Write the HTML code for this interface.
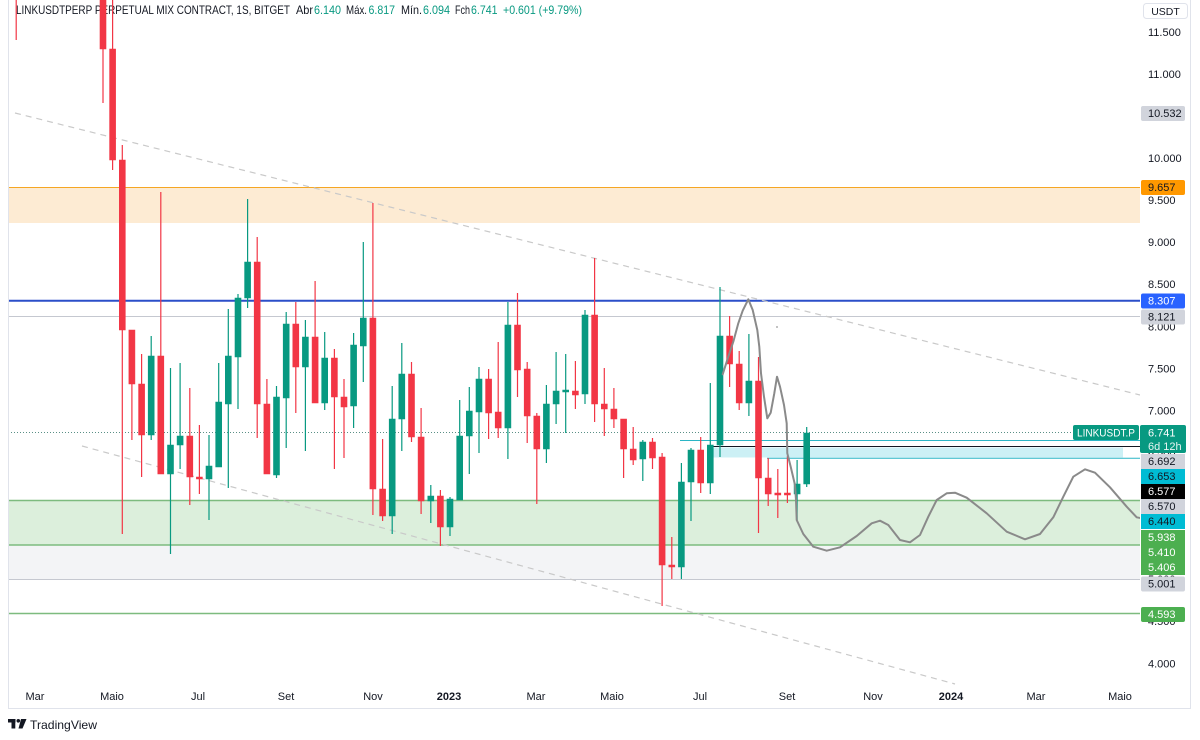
<!DOCTYPE html>
<html><head><meta charset="utf-8"><style>
html,body{margin:0;padding:0;background:#fff;}
svg{display:block;}
text{font-family:"Liberation Sans",sans-serif;}
</style></head><body>
<svg width="1200" height="740" viewBox="0 0 1200 740" xmlns="http://www.w3.org/2000/svg">
<rect x="0" y="0" width="1200" height="740" fill="#ffffff"/>

<!-- zones -->
<rect x="8" y="187" width="1132" height="36" fill="#fdebd3"/>
<line x1="8" y1="187.5" x2="1140" y2="187.5" stroke="#f5a623" stroke-width="1"/>
<rect x="8" y="500" width="1132" height="45" fill="#dcefdc"/>
<rect x="8" y="545" width="1132" height="34" fill="#f3f4f6"/>
<line x1="8" y1="500.5" x2="1140" y2="500.5" stroke="#7dbb7f" stroke-width="1.5"/>
<line x1="8" y1="545" x2="1140" y2="545" stroke="#7dbb7f" stroke-width="1.5"/>
<line x1="8" y1="579.5" x2="1140" y2="579.5" stroke="#c5c8d0" stroke-width="1"/>
<line x1="8" y1="613.5" x2="1140" y2="613.5" stroke="#7dbb7f" stroke-width="1.5"/>

<!-- horizontal lines -->
<line x1="8" y1="300.8" x2="1140" y2="300.8" stroke="#2b4fc9" stroke-width="2"/>
<line x1="8" y1="316.5" x2="1140" y2="316.5" stroke="#c5c8d0" stroke-width="1"/>

<!-- cyan zone -->
<rect x="712" y="447.5" width="411" height="10" fill="#ccf0f5"/>
<line x1="680" y1="440.5" x2="1140" y2="440.5" stroke="#2bb5c5" stroke-width="1"/>
<line x1="712" y1="446.5" x2="1140" y2="446.5" stroke="#131722" stroke-width="1"/>
<line x1="767" y1="458.3" x2="1140" y2="458.3" stroke="#2bb5c5" stroke-width="1"/>

<!-- last price dotted line -->
<line x1="8" y1="432.5" x2="1073" y2="432.5" stroke="#5a8f86" stroke-width="1" stroke-dasharray="1 2"/>

<!-- dashed diagonals -->
<line x1="15" y1="113" x2="1140" y2="395" stroke="#c9c9c9" stroke-width="1.2" stroke-dasharray="6 5"/>
<line x1="82" y1="446" x2="955" y2="684" stroke="#c9c9c9" stroke-width="1.2" stroke-dasharray="6 5"/>

<!-- header -->
<text x="16" y="14" font-size="12" fill="#131722" textLength="274" lengthAdjust="spacingAndGlyphs">LINKUSDTPERP PERPETUAL MIX CONTRACT, 1S, BITGET</text>
<text x="296" y="14" font-size="12" fill="#131722" textLength="17" lengthAdjust="spacingAndGlyphs">Abr</text>
<text x="314" y="14" font-size="12" fill="#089981" textLength="27" lengthAdjust="spacingAndGlyphs">6.140</text>
<text x="346" y="14" font-size="12" fill="#131722" textLength="21" lengthAdjust="spacingAndGlyphs">Máx.</text>
<text x="368.5" y="14" font-size="12" fill="#089981" textLength="26.5" lengthAdjust="spacingAndGlyphs">6.817</text>
<text x="401" y="14" font-size="12" fill="#131722" textLength="21" lengthAdjust="spacingAndGlyphs">Mín.</text>
<text x="423" y="14" font-size="12" fill="#089981" textLength="27" lengthAdjust="spacingAndGlyphs">6.094</text>
<text x="455" y="14" font-size="12" fill="#131722" textLength="15" lengthAdjust="spacingAndGlyphs">Fch</text>
<text x="471" y="14" font-size="12" fill="#089981" textLength="26.5" lengthAdjust="spacingAndGlyphs">6.741</text>
<text x="503" y="14" font-size="12" fill="#089981" textLength="79" lengthAdjust="spacingAndGlyphs">+0.601 (+9.79%)</text>

<!-- candles: red -->
<path fill="none" stroke="#f23645" stroke-width="1.2" d="M16.2 0V40M103 0V103M112.6 0V170M122.3 145V534M131.9 330V440M141.6 354V477M160.8 192V474M189.8 388V505M199.4 425V494M257.2 237V438M266.9 379V474M295.8 302V413M315.1 281V403M334.4 349V469M344 379V458M372.9 203V515M382.6 439V521M411.5 362V442M421.1 408V514M440.4 490V546M488.6 369V439M498.2 342V438M517.5 293V397M527.2 362V443M536.8 413V504M575.4 361V409M594.6 258V422M604.3 368V436M613.9 388V428M623.6 419V478M633.2 427V465M652.5 438V469M662.1 453V606M671.8 537V579M700.7 437V493M729.6 316V387M739.2 351V410M758.5 357V533M768.2 458V506M777.8 469V518M787.4 456V503"/>
<path fill="#f23645" stroke="#f23645" stroke-width="0.6" d="M100 0h6V49h-6ZM109.6 49h6V160h-6ZM119.3 160h6V330h-6ZM128.9 330h6V384h-6ZM138.6 384h6V435h-6ZM157.8 356h6V474h-6ZM186.8 436h6V477h-6ZM196.4 477h6V479h-6ZM254.2 262h6V404h-6ZM263.9 404h6V474h-6ZM292.8 324h6V367h-6ZM312.1 337h6V403h-6ZM331.4 358h6V397h-6ZM341 397h6V407h-6ZM369.9 318h6V489h-6ZM379.6 489h6V516h-6ZM408.5 374h6V437h-6ZM418.1 437h6V501h-6ZM437.4 496h6V527h-6ZM485.6 379h6V413h-6ZM495.2 412h6V428h-6ZM514.5 325h6V370h-6ZM524.2 369h6V416h-6ZM533.8 416h6V449h-6ZM572.4 391h6V395h-6ZM591.6 315h6V404h-6ZM601.3 404h6V409h-6ZM610.9 409h6V419h-6ZM620.6 419h6V449h-6ZM630.2 449h6V460h-6ZM649.5 442h6V458h-6ZM659.1 457h6V565h-6ZM668.8 565h6V567h-6ZM697.7 450h6V483h-6ZM726.6 336h6V364h-6ZM736.2 364h6V403h-6ZM755.5 381h6V478h-6ZM765.2 478h6V494h-6ZM774.8 493h6V495h-6ZM784.4 493h6V495h-6Z"/>

<!-- candles: green -->
<path fill="none" stroke="#089981" stroke-width="1.2" d="M151.2 336V440M170.5 368V554M180.1 363V469M209 435V520M218.7 363V467M228.3 309V488M238 294V409M247.6 199V308M276.5 386V478M286.2 312V448M305.4 320V451M324.7 332V410M353.6 333V428M363.3 242V382M392.2 386V534M401.8 343V451M430.8 485V523M450 497V536M459.7 400V500M469.3 387V474M479 367V453M507.9 302V459M546.4 385V463M556.1 352V424M565.7 354V433M585 310V404M642.8 440V481M681.4 463V579M691 448V521M710.3 383V494M720 287V457M748.9 334V416M797.1 460V520M806.7 427V487"/>
<path fill="#089981" stroke="#089981" stroke-width="0.6" d="M148.2 356h6V435h-6ZM167.5 445h6V474h-6ZM177.1 436h6V445h-6ZM206 466h6V479h-6ZM215.7 402h6V467h-6ZM225.3 356h6V404h-6ZM235 298h6V357h-6ZM244.6 262h6V298h-6ZM273.5 397h6V475h-6ZM283.2 324h6V398h-6ZM302.4 337h6V367h-6ZM321.7 358h6V403h-6ZM350.6 345h6V406h-6ZM360.3 318h6V346h-6ZM389.2 419h6V516h-6ZM398.8 374h6V419h-6ZM427.8 496h6V501h-6ZM447 499h6V527h-6ZM456.7 436h6V500h-6ZM466.3 411h6V436h-6ZM476 379h6V412h-6ZM504.9 325h6V428h-6ZM543.4 404h6V449h-6ZM553.1 391h6V404h-6ZM562.7 390h6V392h-6ZM582 315h6V394h-6ZM639.8 442h6V459h-6ZM678.4 482h6V567h-6ZM688 450h6V482h-6ZM707.3 445h6V483h-6ZM717 336h6V445h-6ZM745.9 381h6V403h-6ZM794.1 484h6V494h-6ZM803.7 433h6V484h-6Z"/>

<!-- projection curve -->
<polyline fill="none" stroke="#8a8a8a" stroke-width="2" stroke-linejoin="round" stroke-linecap="round" points="722.7,374.3 728.3,356.7 733.3,341.7 738.3,323.3 742.7,310.7 748.3,299.3 752.7,310 757.3,330 759.3,346.7 761,373.3 764,396.7 767.3,418.3 770.7,412.7 774.3,393.3 777,376.7 780,386.7 784,405 786.7,423.3 787.3,453.3 790.7,466.7 795,485 796,500 796.7,520 803.3,534 813.3,546.7 826.7,550.7 840,547.3 856.7,536 871.7,523.3 880,520.7 888.3,525 900,540 910,542.3 920,535 928.3,516.7 936.7,500 946.7,493.3 955,492.7 966.7,497.7 986.7,513.3 1006.7,531.7 1025,539.3 1040,534 1053.3,517.3 1063.3,496.7 1073.3,476.7 1085,469.3 1095,472.7 1110,487.3 1126.7,506.7 1136.7,517.3 1141.7,518.3"/>
<circle cx="777" cy="327" r="1" fill="#b0b0b0"/>

<!-- borders -->
<rect x="1140" y="0" width="60" height="708" fill="#ffffff"/>
<rect x="0" y="0" width="8" height="740" fill="#ffffff"/>
<line x1="8.5" y1="0" x2="8.5" y2="708" stroke="#e0e3eb" stroke-width="1"/>
<line x1="1190.5" y1="0" x2="1190.5" y2="708.5" stroke="#e0e3eb" stroke-width="1"/>
<line x1="8" y1="708.5" x2="1191" y2="708.5" stroke="#e0e3eb" stroke-width="1"/>

<!-- price axis ticks -->
<g font-size="11" fill="#131722">
<text x="1148" y="35.8">11.500</text>
<text x="1148" y="77.9">11.000</text>
<text x="1148" y="162">10.000</text>
<text x="1148" y="204">9.500</text>
<text x="1148" y="246">9.000</text>
<text x="1148" y="288">8.500</text>
<text x="1148" y="330.5">8.000</text>
<text x="1148" y="372.6">7.500</text>
<text x="1148" y="414.7">7.000</text>
<text x="1148" y="456.8">6.500</text>
<text x="1148" y="498.9">6.000</text>
<text x="1148" y="541">5.500</text>
<text x="1148" y="583">5.000</text>
<text x="1148" y="625.2">4.500</text>
<text x="1148" y="667.3">4.000</text>
</g>

<!-- USDT box -->
<rect x="1143.5" y="3.5" width="44" height="15" rx="3" fill="#ffffff" stroke="#e0e3eb"/>
<text x="1165.5" y="15" font-size="10.5" fill="#131722" text-anchor="middle">USDT</text>

<!-- price labels -->
<g font-size="11">
<rect x="1141" y="106" width="44" height="15" rx="2" fill="#d1d4dc"/><text x="1148" y="117.2" fill="#131722">10.532</text>
<rect x="1141" y="180" width="44" height="15" rx="2" fill="#ff9800"/><text x="1148" y="191.2" fill="#131722">9.657</text>
<rect x="1141" y="293.5" width="44" height="15" rx="2" fill="#2962ff"/><text x="1148" y="304.7" fill="#ffffff">8.307</text>
<rect x="1141" y="309.5" width="44" height="15" rx="2" fill="#d1d4dc"/><text x="1148" y="320.7" fill="#131722">8.121</text>

<rect x="1073" y="425" width="66" height="15" rx="2" fill="#089981"/><text x="1077" y="436.5" fill="#ffffff" textLength="58" lengthAdjust="spacingAndGlyphs">LINKUSDT.P</text>
<rect x="1140" y="425" width="46" height="28" rx="2" fill="#089981"/>
<text x="1148" y="436.5" fill="#ffffff">6.741</text>
<text x="1148" y="450" fill="#e6f5f2">6d 12h</text>

<rect x="1141" y="454" width="44" height="15" fill="#d1d4dc"/><text x="1148" y="465.2" fill="#131722">6.692</text>
<rect x="1141" y="469" width="44" height="15" fill="#00bcd4"/><text x="1148" y="480.2" fill="#131722">6.653</text>
<rect x="1141" y="484" width="44" height="15" fill="#000000"/><text x="1148" y="495.2" fill="#ffffff">6.577</text>
<rect x="1141" y="499" width="44" height="15" fill="#d1d4dc"/><text x="1148" y="510.2" fill="#131722">6.570</text>
<rect x="1141" y="514" width="44" height="15" fill="#00bcd4"/><text x="1148" y="525.2" fill="#131722">6.440</text>
<rect x="1141" y="530" width="44" height="15" fill="#4caf50"/><text x="1148" y="541.2" fill="#ffffff">5.938</text>
<rect x="1141" y="545" width="44" height="15" fill="#4caf50"/><text x="1148" y="556.2" fill="#ffffff">5.410</text>
<rect x="1141" y="560" width="44" height="15" fill="#4caf50"/><text x="1148" y="571.2" fill="#ffffff">5.406</text>
<rect x="1141" y="576.5" width="44" height="15" rx="2" fill="#d1d4dc"/><text x="1148" y="587.7" fill="#131722">5.001</text>
<rect x="1141" y="607" width="44" height="15" rx="2" fill="#4caf50"/><text x="1148" y="618.2" fill="#ffffff">4.593</text>
</g>

<!-- time axis -->
<g font-size="11" fill="#131722" text-anchor="middle">
<text x="35" y="700">Mar</text>
<text x="112" y="700">Maio</text>
<text x="198" y="700">Jul</text>
<text x="286" y="700">Set</text>
<text x="373" y="700">Nov</text>
<text x="449" y="700" font-weight="bold">2023</text>
<text x="536" y="700">Mar</text>
<text x="612" y="700">Maio</text>
<text x="700" y="700">Jul</text>
<text x="787" y="700">Set</text>
<text x="873" y="700">Nov</text>
<text x="951" y="700" font-weight="bold">2024</text>
<text x="1036" y="700">Mar</text>
<text x="1120" y="700">Maio</text>
</g>

<!-- TradingView logo -->
<g fill="#131722">
<rect x="8" y="719" width="7.5" height="3.5"/>
<rect x="11.5" y="719" width="3.8" height="9.5"/>
<circle cx="18.3" cy="720.8" r="1.8"/>
<polygon points="21,719 26.5,719 22.5,728.5 18.5,728.5"/>
</g>
<text x="30" y="729" font-size="12" fill="#131722" textLength="67" lengthAdjust="spacingAndGlyphs">TradingView</text>
</svg>
</body></html>
